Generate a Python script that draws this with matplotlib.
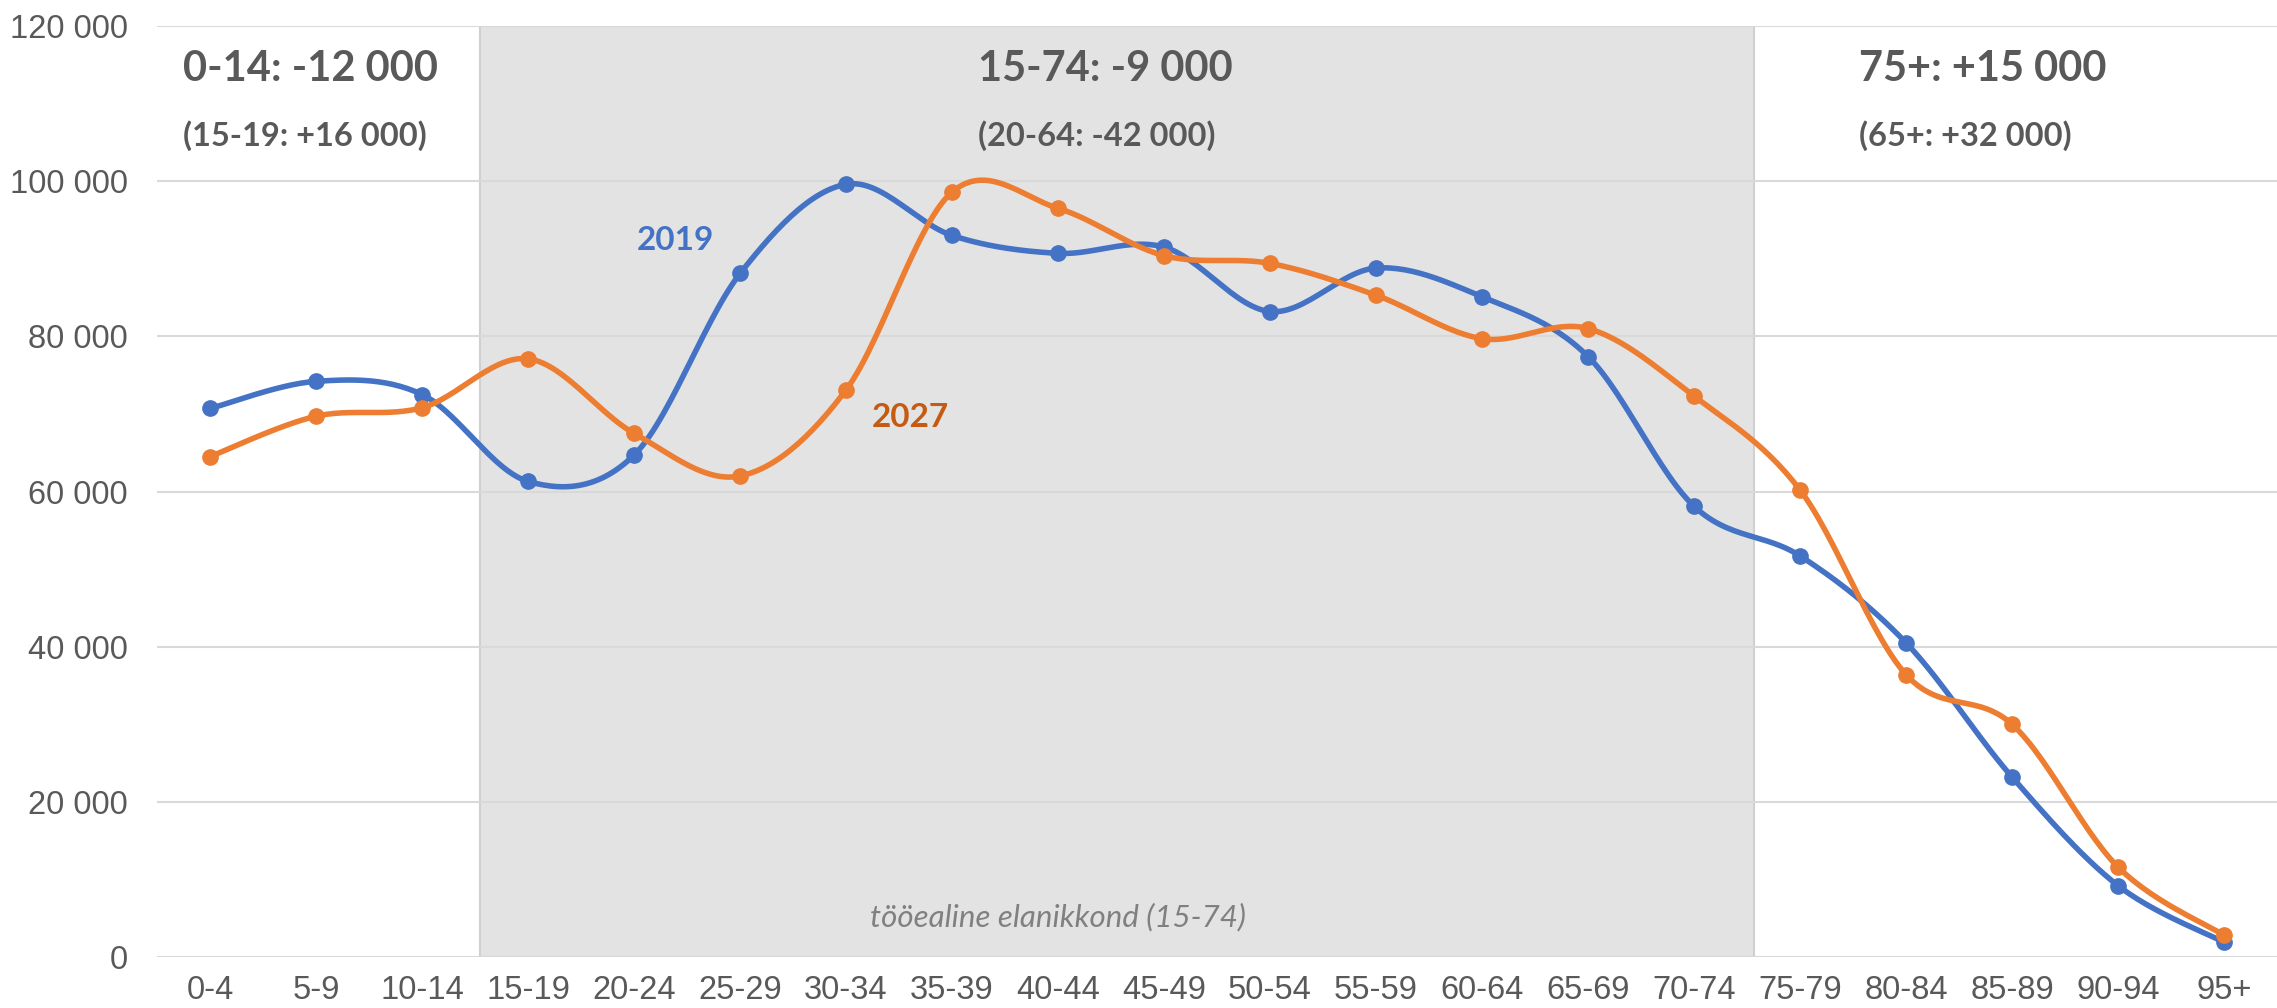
import numpy as np
import matplotlib
matplotlib.use("Agg")
import matplotlib.pyplot as plt

categories = ["0-4", "5-9", "10-14", "15-19", "20-24", "25-29", "30-34", "35-39",
              "40-44", "45-49", "50-54", "55-59", "60-64", "65-69", "70-74",
              "75-79", "80-84", "85-89", "90-94", "95+"]
pop_2019 = [70700, 74200, 72500, 61300, 64700, 88100, 99600, 93000, 90700, 91500,
            83200, 88800, 85100, 77400, 58100, 51700, 40500, 23200, 9200, 1900]
pop_2027 = [64500, 69700, 70800, 77100, 67500, 62000, 73100, 98600, 96500, 90400,
            89400, 85300, 79700, 81000, 72300, 60200, 36400, 30000, 11600, 2800]
yticks = [0, 20000, 40000, 60000, 80000, 100000, 120000]
ytick_labels = ["0", "20 000", "40 000", "60 000", "80 000", "100 000", "120 000"]

BLUE = "#4472C4"
ORANGE = "#ED7D31"
TXT = "#595959"


def smooth(x, y, n=30):
    x = np.asarray(x, float); y = np.asarray(y, float)
    P = np.column_stack([x, y])
    P = np.vstack([P[0], P, P[-1]])
    out = []
    for i in range(1, len(P) - 2):
        p0, p1, p2, p3 = P[i - 1], P[i], P[i + 1], P[i + 2]
        c1 = p1 + (p2 - p0) / 6.0
        c2 = p2 - (p3 - p1) / 6.0
        t = np.linspace(0, 1, n)[:, None]
        seg = ((1 - t) ** 3) * p1 + 3 * ((1 - t) ** 2) * t * c1 + 3 * (1 - t) * t ** 2 * c2 + t ** 3 * p2
        out.append(seg if i == 1 else seg[1:])
    out = np.vstack(out)
    return out[:, 0], out[:, 1]

fig = plt.figure(figsize=(22.77, 10.08), dpi=100)
ax = fig.add_axes([0.069, 0.0506, 0.931, 0.9236])

xs = np.arange(len(categories))
ax.set_xlim(-0.5, len(categories) - 0.5)
ax.set_ylim(0, 120000)

# shaded working-age band
ax.axvspan(2.55, 14.57, ymin=0, ymax=1, facecolor="#e3e3e3", edgecolor="#d0d0d0", lw=1.5, zorder=0.5)

ax.set_yticks(yticks)
ax.set_yticklabels(ytick_labels)
ax.set_xticks(xs)
ax.set_xticklabels(categories)
ax.grid(axis="y", color="#d9d9d9", lw=1.5, zorder=1)
ax.set_axisbelow(True)
for s in ax.spines.values():
    s.set_visible(False)
ax.tick_params(length=0)
ax.tick_params(axis="y", pad=21)
ax.tick_params(axis="x", pad=13)
for lab in ax.get_xticklabels() + ax.get_yticklabels():
    lab.set_family(["Liberation Sans", "DejaVu Sans"])
    lab.set_fontsize(23.5)
    lab.set_color(TXT)

for data, col in [(pop_2019, BLUE), (pop_2027, ORANGE)]:
    sx, sy = smooth(xs, data)
    ax.plot(sx, sy, color=col, lw=4, zorder=3, solid_capstyle="round")
    ax.plot(xs, data, "o", color=col, ms=11, zorder=4)

bold = dict(family=["Lato", "DejaVu Sans"], fontweight="bold", color=TXT, va="center", ha="left")
ax.text(-0.26, 114400, "0-14: -12 000", fontsize=30, **bold)
ax.text(-0.26, 105900, "(15-19: +16 000)", fontsize=23.5, **bold)
ax.text(7.24, 114400, "15-74: -9 000", fontsize=30, **bold)
ax.text(7.24, 105900, "(20-64: -42 000)", fontsize=23.5, **bold)
ax.text(15.56, 114400, "75+: +15 000", fontsize=30, **bold)
ax.text(15.56, 105900, "(65+: +32 000)", fontsize=23.5, **bold)

ax.text(4.39, 92400, "2019", fontsize=24, family=["Lato", "DejaVu Sans"], fontweight="bold",
        color=BLUE, ha="center", va="center")
ax.text(6.61, 69600, "2027", fontsize=24, family=["Lato", "DejaVu Sans"], fontweight="bold",
        color="#C55A11", ha="center", va="center")
ax.text(8.0, 5200, "tööealine elanikkond (15-74)", fontsize=22.5, family=["Lato", "DejaVu Sans"],
        style="italic", color="#808080", ha="center", va="center")

fig.savefig("out.png", dpi=100)
